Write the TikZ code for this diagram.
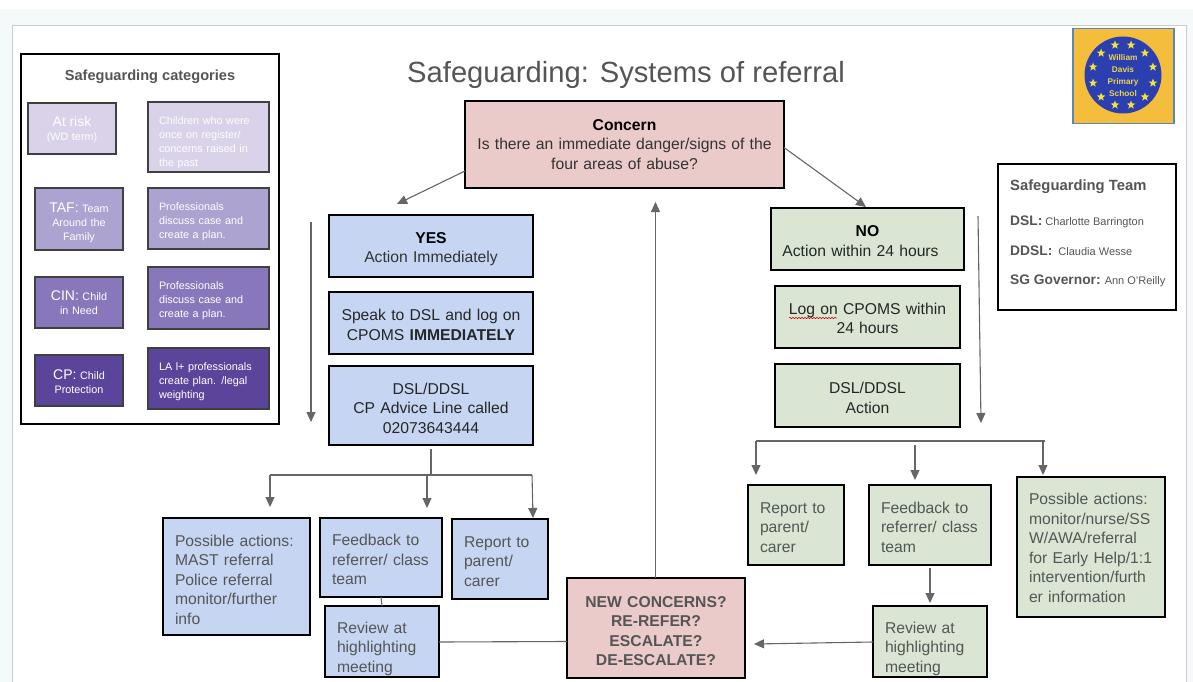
\documentclass[tikz,border=0pt]{standalone}
\usepackage{fontspec}
\setmainfont{Liberation Sans}
\usetikzlibrary{arrows.meta,shapes.geometric,decorations.pathmorphing,calc}
\definecolor{ink}{HTML}{555555}
\definecolor{line}{HTML}{666666}
\definecolor{pagebg}{HTML}{F4F9F9}
\definecolor{pageln}{HTML}{CCCCCC}
\definecolor{bluef}{HTML}{C6D6F2}
\definecolor{greenf}{HTML}{DAE6D3}
\definecolor{redf}{HTML}{EBCACA}
\definecolor{pa}{HTML}{D9D2E8}
\definecolor{pb}{HTML}{ADA3D0}
\definecolor{pc}{HTML}{8878BB}
\definecolor{pd}{HTML}{5B459B}
\definecolor{logoy}{HTML}{F4BE3C}
\definecolor{logob}{HTML}{2B3FB0}
\definecolor{logol}{HTML}{5B88B0}
\definecolor{logos}{HTML}{F2E33C}
\definecolor{logot}{HTML}{E8D44A}
\tikzset{
 fbox/.style={draw=black,line width=2.6pt,inner xsep=0pt,inner ysep=0pt,text=ink,align=left,outer sep=0pt},
 flowl/.style={fbox,font=\fontsize{15.7}{19.5}\selectfont},
 flowc/.style={fbox,align=center,font=\fontsize{15.7}{19.5}\selectfont},
 catb/.style={draw=black!75,line width=1.5pt,inner xsep=0pt,inner ysep=0pt,text=white,outer sep=0pt},
 catl/.style={catb,align=left,font=\fontsize{10.8}{14}\selectfont},
 catc/.style={catb,align=center,font=\fontsize{10.8}{14}\selectfont},
 conn/.style={draw=line,line width=1.1pt},
 arr/.style={conn,-{Triangle[length=10pt,width=9pt]}},
}
% \bx{name}{x1}{y1}{x2}{y2}{left/right padding}{style}{text}
\newcommand{\bx}[8]{%
 \pgfmathsetmacro{\bxw}{#4-#2}\pgfmathsetmacro{\bxh}{#5-#3}%
 \pgfmathsetmacro{\bxt}{#4-#2-2*#6}%
 \node[#7,minimum width=\bxw pt,minimum height=\bxh pt,text width=\bxt pt] (#1) at ({(#2+#4)/2},{(#3+#5)/2}) {#8};}
% push the text block down by #1 px
\newcommand{\dnA}[1]{\rule{0pt}{\dimexpr 11.6pt+#1pt*2\relax}}
\newcommand{\dnB}[1]{\rule{0pt}{\dimexpr 8pt+#1pt*2\relax}}
\begin{document}
\begin{tikzpicture}[x=1pt,y=-1pt]
\useasboundingbox (0,0) rectangle (1193,682);
\fill[white] (0,0) rectangle (1193,682);
\fill[pagebg] (0,9) rectangle (1193,682);
\fill[white,draw=pageln,line width=1pt] (12.5,26) rectangle (1186.5,690);
% title
\node[text=ink,font=\fontsize{29.2}{36}\selectfont,inner sep=0pt] (title) at (626,75) {Safeguarding: Systems of referral};
% categories panel
\node[draw=black,line width=2.4pt,minimum width=258pt,minimum height=370pt,inner sep=0pt,outer sep=0pt] (panel) at (150,239) {};
\node[text=ink,font=\fontsize{14.6}{16}\selectfont\bfseries,inner sep=0pt] (panelt) at (150,77) {Safeguarding categories};
\bx{c1}{28}{103}{116}{154}{2}{catc,fill=pa}{\dnB{2}{\fontsize{14}{16}\selectfont At risk}\\(WD term)}
\bx{d1}{148}{102}{269}{172}{11}{catl,fill=pa}{\dnB{6}Children who were\\once on register/\\concerns raised in\\the past}
\bx{c2}{35}{188}{123}{250}{0}{catc,fill=pb}{\dnB{5}{\fontsize{14}{14}\selectfont TAF:} Team\\Around the\\Family}
\bx{d2}{148}{188}{269}{249}{11}{catl,fill=pb}{\dnB{3}Professionals\\discuss case and\\create a plan.}
\bx{c3}{35}{277}{123}{328}{0}{catc,fill=pc}{\dnB{1}{\fontsize{14}{14}\selectfont CIN:} Child\\in Need}
\bx{d3}{148}{267}{269}{329}{11}{catl,fill=pc}{\dnB{3}Professionals\\discuss case and\\create a plan.}
\bx{c4}{35}{355}{123}{406}{0}{catc,fill=pd}{\dnB{2}{\fontsize{14}{14}\selectfont CP:} Child\\Protection}
\bx{d4}{148}{348}{269}{409}{11}{catl,fill=pd}{\dnB{3}LA l+ professionals\\create plan. /legal\\weighting}
% logo
\node[draw=logol,line width=1.3pt,fill=logoy,minimum width=101pt,minimum height=95pt,inner sep=0pt] (logo) at (1123.5,76) {};
\node[circle,fill=logob,minimum size=77pt,inner sep=0pt] (seal) at (1123,75) {};
\foreach \i in {1,...,12}{
 \node[star,star points=5,star point ratio=2.4,fill=logos,minimum size=9pt,inner sep=0pt] (st\i) at ($(seal)+({15+30*\i}:31 and -31)$) {};
}
\node[text=logot,align=center,font=\fontsize{8.3}{12}\selectfont\bfseries,inner sep=0pt] (logot) at (1123,76) {William\\Davis\\Primary\\School};
% team panel
\node[draw=black,line width=2.2pt,minimum width=178pt,minimum height=146pt,inner sep=0pt,outer sep=0pt] (team) at (1087,237) {};
\node[anchor=base west,text=ink,font=\fontsize{14.8}{16}\selectfont\bfseries,inner sep=0pt] (teamt) at (1010,190) {Safeguarding Team};
\node[anchor=base west,text=ink,font=\fontsize{11}{12}\selectfont,inner sep=0pt] (t1) at (1010,225) {{\fontsize{13.8}{14}\selectfont\bfseries DSL:}\ Charlotte Barrington};
\node[anchor=base west,text=ink,font=\fontsize{11}{12}\selectfont,inner sep=0pt] (t2) at (1010,255) {{\fontsize{13.8}{14}\selectfont\bfseries DDSL:}\ \ Claudia Wesse};
\node[anchor=base west,text=ink,font=\fontsize{11}{12}\selectfont,inner sep=0pt] (t3) at (1010,284) {{\fontsize{13.8}{14}\selectfont\bfseries SG Governor:} Ann O'Reilly};
% flow boxes
\bx{concern}{465}{101}{784}{188}{2}{flowc,fill=redf,text=black!80}{{\color{black}\bfseries Concern}\\Is there an immediate danger/signs of the\\four areas of abuse?}
\bx{yes}{329}{215}{533}{277}{2}{flowc,fill=bluef,text=black!80}{\dnA{3}{\color{black}\bfseries YES}\\Action Immediately}
\bx{speak}{329}{292}{533}{354}{2}{flowc,fill=bluef,text=black!85}{\dnA{2}Speak to DSL and log on\\CPOMS {\bfseries IMMEDIATELY}}
\bx{dsl}{329}{366}{533}{445}{2}{flowc,fill=bluef,text=black!85}{\dnA{2.5}DSL/DDSL\\CP Advice Line called\\02073643444}
\bx{no}{771}{208}{964}{270}{2}{flowc,fill=greenf,text=black!85}{\dnA{2}{\color{black}\bfseries NO}\\Action within 24 hours\hspace*{14pt}}
\bx{logc}{775}{286}{960}{348}{2}{flowc,fill=greenf,text=black!85}{\dnA{1.5}Log on CPOMS within\\24 hours}
\bx{act}{775}{364}{960}{427}{2}{flowc,fill=greenf,text=black!85}{\dnA{2.5}DSL/DDSL\\Action}
\bx{lposs}{163}{518}{310}{635}{12}{flowl,fill=bluef}{\dnA{3}Possible~actions:\\MAST~referral\\Police~referral\\monitor/further\\info}
\bx{lfeed}{320}{518}{442}{597}{12}{flowl,fill=bluef}{\dnA{2}Feedback~to\\referrer/~class\\team}
\bx{lrep}{452}{519}{548}{599}{12}{flowl,fill=bluef}{\dnA{2}Report~to\\parent/\\carer}
\bx{lrev}{325}{606}{439}{677}{12}{flowl,fill=bluef}{\dnA{7}Review~at\\highlighting\\meeting}
\bx{new}{567}{578}{745}{678}{2}{flowc,fill=redf}{\bfseries\dnA{3}NEW CONCERNS?\\RE-REFER?\\ESCALATE?\\DE-ESCALATE?}
\bx{grep}{748}{485}{844}{565}{12}{flowl,fill=greenf}{\dnA{2}Report~to\\parent/\\carer}
\bx{gfeed}{869}{485}{991}{565}{12}{flowl,fill=greenf}{\dnA{2}Feedback~to\\referrer/~class\\team}
\bx{gposs}{1017}{477}{1165}{617}{12}{flowl,fill=greenf}{\dnA{1}Possible~actions:\\monitor/nurse/SS\\W/AWA/referral\\for~Early~Help/1:1\\intervention/furth\\er~information}
\bx{grev}{873}{606}{987}{677}{12}{flowl,fill=greenf}{\dnA{7}Review~at\\highlighting\\meeting}
% spelling squiggle
\coordinate (sqa) at (789,318);
\coordinate (sqb) at (837,318);
\draw[red!75!black,line width=.5pt,decorate,decoration={snake,amplitude=.7pt,segment length=3pt}] (sqa) -- (sqb);
% free ends
\coordinate (yesend) at (397,204);
\coordinate (noend) at (866,207);
\coordinate (la) at (311,222); \coordinate (lb) at (311,422);
\coordinate (ra) at (978,216); \coordinate (rb) at (981,423);
\coordinate (lbus1) at (270,475); \coordinate (lbus2) at (532,475);
\coordinate (ltap) at (431,449); \coordinate (ltapb) at (431,475);
\coordinate (la1) at (270,507); \coordinate (lm0) at (427,475); \coordinate (lm1) at (427,508);
\coordinate (lr1) at (533,518);
\coordinate (gbus1) at (756,441); \coordinate (gbus2) at (1045,441);
\coordinate (ga1) at (756,475); \coordinate (gm0) at (915,445); \coordinate (gm1) at (915,480);
\coordinate (gr0) at (1043,441); \coordinate (gr1) at (1043,475);
\coordinate (fb0) at (930,568); \coordinate (fb1) at (930,603);
\coordinate (nin) at (754,644);
\coordinate (upend) at (655.5,202);
% connectors
\draw[arr] ([yshift=-26.5pt]concern.west) -- (yesend);
\draw[arr] ([yshift=-3pt]concern.east) -- (noend);
\draw[arr] (la) -- (lb);
\draw[arr] (ra) -- (rb);
\draw[conn] (ltap) -- (ltapb);
\draw[conn] (lbus1) -- (lbus2);
\draw[arr] (lbus1) -- (la1);
\draw[arr] (lm0) -- (lm1);
\draw[arr] (lbus2) -- (lr1);
\draw[conn] (gbus1) -- (gbus2);
\draw[arr] (gbus1) -- (ga1);
\draw[arr] (gm0) -- (gm1);
\draw[arr] (gr0) -- (gr1);
\draw[arr] (fb0) -- (fb1);
\draw[arr] ([yshift=-0.5pt]grev.west) -- (nin);
\draw[conn] ([yshift=-0.5pt]lrev.east) -- (new.west |- lrev.east);
\draw[conn] (lfeed.south) -- (lrev.north);
\draw[arr] (new.north -| upend) -- (upend);
\end{tikzpicture}
\end{document}
